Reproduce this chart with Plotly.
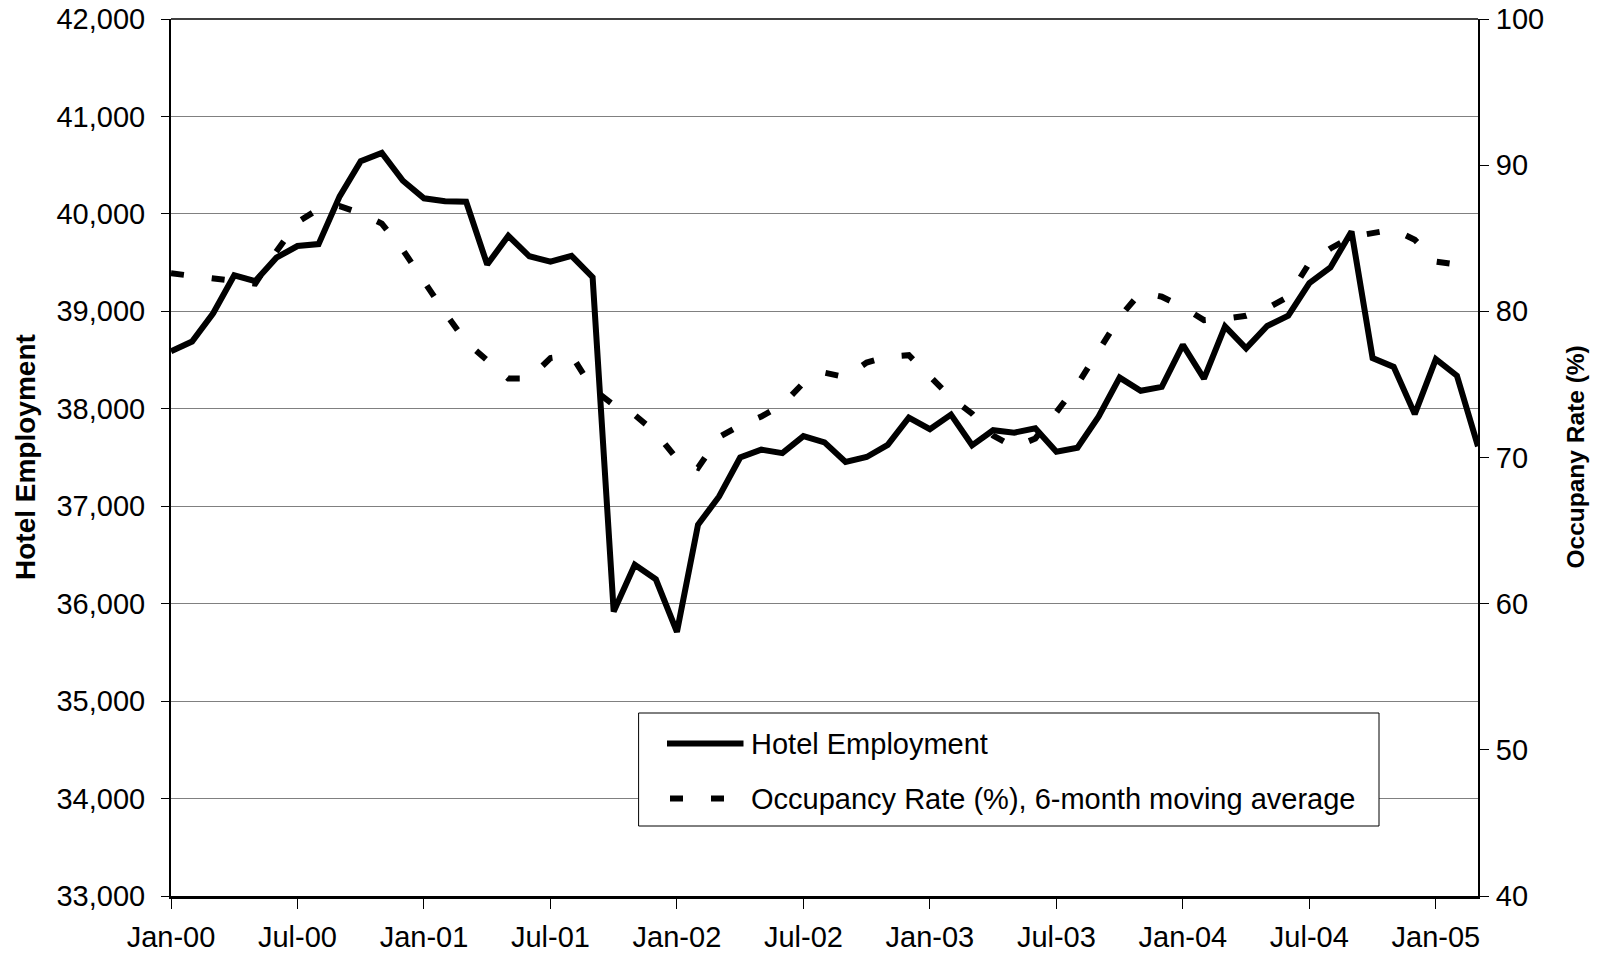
import plotly.graph_objects as go
import pandas as pd

# ---- data ----
months = pd.date_range("2000-01-01", "2005-03-01", freq="MS").strftime("%b-%y").tolist()

hotel_employment = [
    38590, 38690, 38980, 39370, 39310, 39550, 39670, 39690, 40180, 40540,
    40625, 40340, 40160, 40130, 40125, 39480, 39775, 39565, 39510, 39570,
    39350, 35920, 36400, 36250, 35710, 36810, 37100, 37500, 37580, 37545,
    37720, 37655, 37455, 37505, 37630, 37910, 37790, 37940, 37625, 37780,
    37755, 37800, 37560, 37600, 37920, 38320, 38185, 38225, 38655, 38310,
    38845, 38620, 38850, 38955, 39290, 39450, 39820, 38520, 38430, 37945,
    38510, 38340, 37615,
]

occupancy_rate = [
    82.6, 82.4, 82.3, 82.1, 81.9, 84.1, 86.1, 87.0, 87.2, 86.7,
    86.0, 84.2, 82.0, 79.9, 77.9, 76.6, 75.4, 75.4, 76.8, 77.0,
    74.7, 73.6, 72.9, 71.7, 69.9, 69.3, 71.4, 72.2, 72.8, 73.6,
    75.1, 75.8, 75.5, 76.5, 76.9, 77.0, 75.6, 74.1, 73.0, 71.5,
    70.7, 71.3, 73.1, 75.0, 77.3, 79.6, 81.3, 81.0, 80.3, 79.4,
    79.5, 79.7, 80.2, 81.0, 83.3, 84.3, 85.1, 85.4, 85.6, 84.9,
    83.4, 83.2,
]

tick_labels = ["Jan-00", "Jul-00", "Jan-01", "Jul-01", "Jan-02", "Jul-02",
               "Jan-03", "Jul-03", "Jan-04", "Jul-04", "Jan-05"]

emp_name = "Hotel Employment"
occ_name = "Occupancy Rate (%), 6-month moving average"
left_title = "Hotel Employment"
right_title = "Occupany Rate (%)"

x_idx = list(range(len(months)))
tick_pos = [months.index(t) for t in tick_labels]

FONT = "Liberation Sans, Arial, sans-serif"
DASH = "13px,28px"

fig = go.Figure()
fig.add_trace(go.Scatter(
    x=x_idx, y=hotel_employment, mode="lines", name=emp_name,
    line=dict(color="black", width=6), yaxis="y", showlegend=False,
))
fig.add_trace(go.Scatter(
    x=x_idx[:len(occupancy_rate)], y=occupancy_rate, mode="lines", name=occ_name,
    line=dict(color="black", width=6, dash=DASH), yaxis="y2", showlegend=False,
))

# plot area in pixels: left 171, right 1478, top 19, bottom 896
L, R, T, B = 171, 1478, 19, 896
W, H = R - L, B - T

def px(xp):
    return (xp - L) / W

def py(yp):
    return (B - yp) / H

fig.update_layout(
    width=1597, height=956, autosize=False,
    margin=dict(l=L, r=1597 - R, t=T, b=956 - B, pad=0, autoexpand=False),
    paper_bgcolor="white", plot_bgcolor="white",
    font=dict(family=FONT, size=29, color="black"),
    xaxis=dict(
        range=[0, len(months) - 1], tickmode="array", tickvals=tick_pos, ticktext=tick_labels,
        ticks="outside", ticklen=10, tickwidth=1, tickcolor="black",
        showline=True, linecolor="black", linewidth=3, showgrid=False, zeroline=False,
        tickfont=dict(size=29), ticklabelstandoff=3, automargin=False,
    ),
    yaxis=dict(
        range=[33000, 42000], tick0=33000, dtick=1000, tickformat=",d",
        ticks="outside", ticklen=8, tickwidth=1, tickcolor="black",
        showline=True, linecolor="black", linewidth=2,
        showgrid=True, gridcolor="#808080", gridwidth=1, zeroline=False,
        tickfont=dict(size=29), ticklabelstandoff=10, automargin=False,
    ),
    yaxis2=dict(
        range=[40, 100], tick0=40, dtick=10, overlaying="y", side="right",
        ticks="outside", ticklen=9, tickwidth=1, tickcolor="black",
        showline=True, linecolor="black", linewidth=2, showgrid=False, zeroline=False,
        tickfont=dict(size=29), ticklabelstandoff=1, automargin=False,
    ),
)

shapes = [
    # top border
    dict(type="line", xref="paper", yref="paper", x0=0, x1=1, y0=1, y1=1,
         line=dict(color="black", width=1.5)),
    # legend box
    dict(type="rect", xref="paper", yref="paper", x0=px(638.6), x1=px(1379), y0=py(826), y1=py(713),
         line=dict(color="black", width=1), fillcolor="white"),
    dict(type="line", xref="paper", yref="paper", x0=px(667), x1=px(743.5), y0=py(743.5), y1=py(743.5),
         line=dict(color="black", width=6)),
    dict(type="line", xref="paper", yref="paper", x0=px(670), x1=px(724), y0=py(798.5), y1=py(798.5),
         line=dict(color="black", width=6, dash=DASH)),
]
fig.update_layout(shapes=shapes)

annotations = [
    dict(text=emp_name, xref="paper", yref="paper", x=px(748.6), y=py(743.5),
         xanchor="left", yanchor="middle", showarrow=False, font=dict(size=29)),
    dict(text=occ_name, xref="paper", yref="paper", x=px(748.6), y=py(798.5),
         xanchor="left", yanchor="middle", showarrow=False, font=dict(size=29)),
    dict(text="<b>" + left_title + "</b>", xref="paper", yref="paper", x=px(25.5), y=0.5,
         xanchor="center", yanchor="middle", textangle=-90, showarrow=False, font=dict(size=28)),
    dict(text="<b>" + right_title + "</b>", xref="paper", yref="paper", x=px(1575), y=py(457.5),
         xanchor="center", yanchor="middle", textangle=-90, showarrow=False, font=dict(size=24.5)),
]
fig.update_layout(annotations=annotations)

fig.write_html(
    "out.html",
    config={"displayModeBar": False},
    post_script="document.body.style.margin='0';document.body.style.overflow='hidden';",
)
